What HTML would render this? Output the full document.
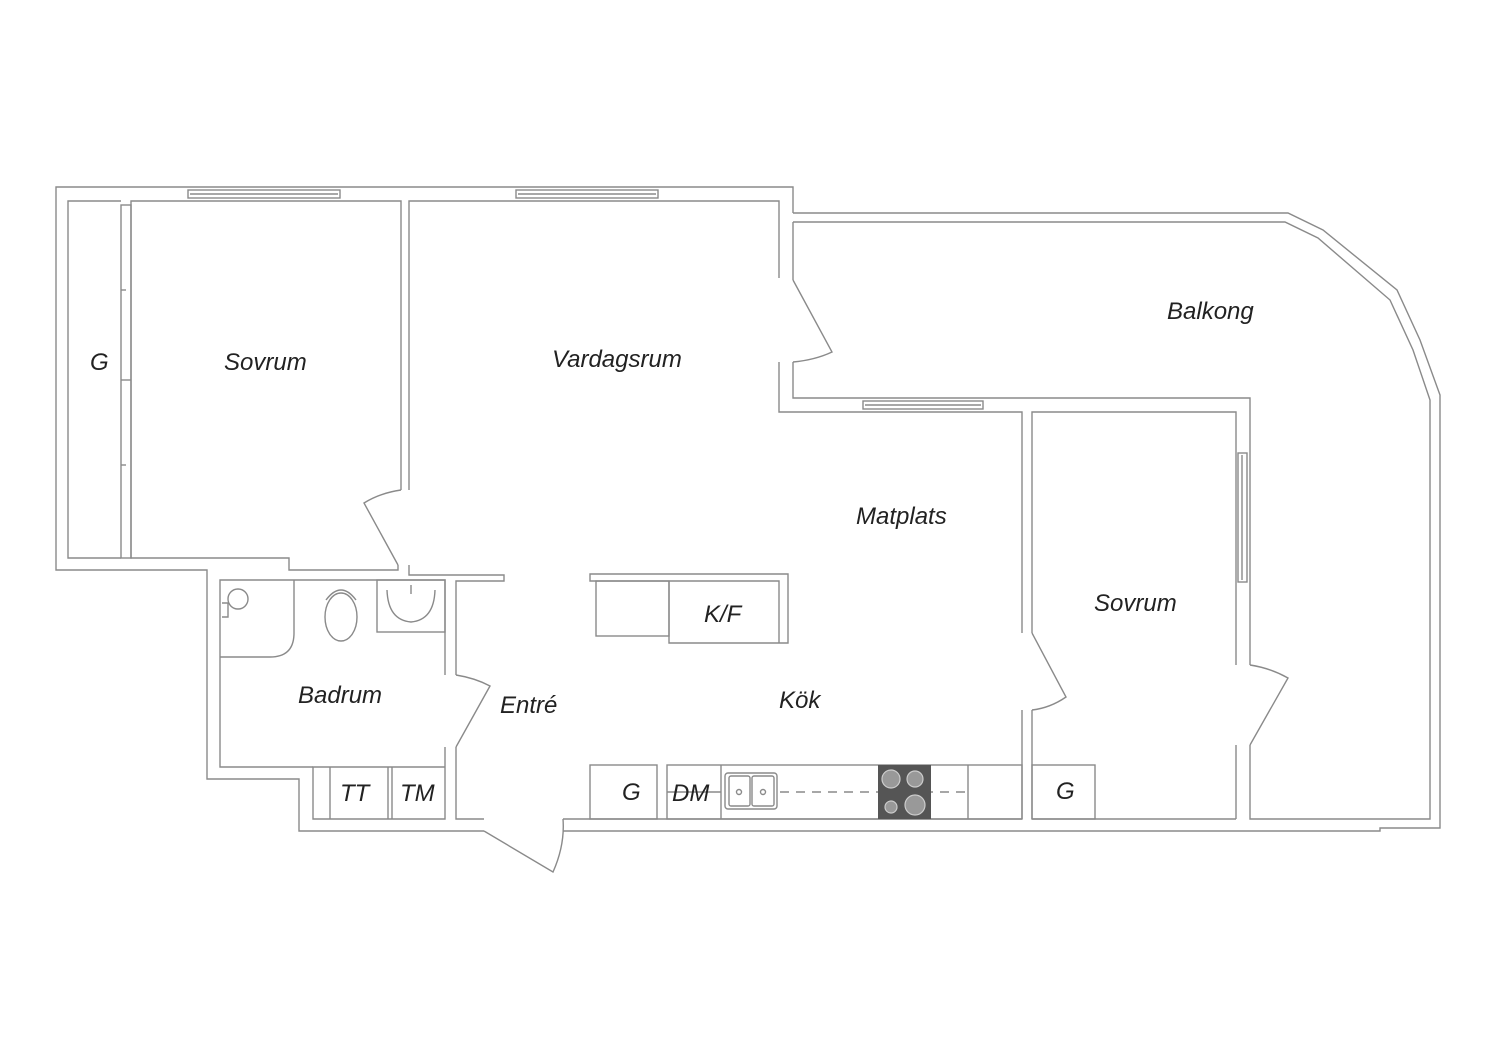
<!DOCTYPE html>
<html><head><meta charset="utf-8"><style>
html,body{margin:0;padding:0;background:#fff;}
svg{display:block}
text{font-family:"Liberation Sans",sans-serif;font-style:italic;font-size:24px;fill:#222;}
</style></head><body>
<svg width="1500" height="1060" viewBox="0 0 1500 1060" xmlns="http://www.w3.org/2000/svg">
<g fill="none" stroke="#8a8a8a" stroke-width="1.4">
<polyline points="793,213 793,187 56,187 56,570 207,570 207,779 299,779 299,831 484,831"/>
<polyline points="563,831 1380,831 1380,828 1440,828 1440,395 1420,340 1397,290 1323,230 1288,213 793,213"/>
<polyline points="793,222 1285,222 1318,238 1390,300 1413,350 1430,400 1430,819 1250,819 1250,745"/>
<polyline points="1250,665 1250,398 793,398 793,362"/>
<polyline points="793,280 793,222"/>
<polyline points="779,278 779,201 409,201 409,490"/>
<polyline points="779,362 779,412 1022,412 1022,633"/>
<polyline points="1022,710 1022,819"/>
<polyline points="1032,710 1032,819"/>
<polyline points="1032,633 1032,412 1236,412 1236,665"/>
<polyline points="1236,745 1236,819"/>
<polyline points="401,490 401,201 131,201 131,558 289,558 289,570 398,570 398,565"/>
<polyline points="409,565 409,575 504,575 504,581 456,581 456,675"/>
<polyline points="456,747 456,819 484,819"/>
<polyline points="563,819 1022,819"/>
<polyline points="1032,819 1236,819"/>
<polyline points="121,201 68,201 68,558 121,558"/>
<rect x="121" y="205" width="10" height="353"/>
<line x1="121" y1="290" x2="126" y2="290"/>
<line x1="121" y1="380" x2="131" y2="380"/>
<line x1="121" y1="465" x2="126" y2="465"/>
<polyline points="445,675 445,580 220,580 220,767 313,767"/>
<polyline points="445,747 445,819 313,819 313,767 445,767"/>
<line x1="330" y1="767" x2="330" y2="819"/>
<line x1="388" y1="767" x2="388" y2="819"/>
<line x1="392" y1="767" x2="392" y2="819"/>
<path d="M220,657 L270,657 Q294,657 294,633 L294,580"/>
<circle cx="238" cy="599" r="10"/>
<path d="M222,603 h6 v14 h-6"/>
<ellipse cx="341" cy="617" rx="16" ry="24"/>
<path d="M326,600 Q341,580 356,600"/>
<rect x="377" y="580" width="68" height="52"/>
<path d="M387,590 Q388,620 411,622 Q434,620 435,590"/>
<line x1="411" y1="585" x2="411" y2="594"/>
<path d="M793,280 L832,352 Q815,360 793,362"/>
<path d="M401,490 Q380,493 364,503 L398,565"/>
<path d="M456,675 Q475,678 490,686 L456,747"/>
<path d="M1032,633 L1066,697 Q1050,708 1032,710"/>
<path d="M1250,665 Q1270,668 1288,678 L1250,745"/>
<path d="M484,831 L553,872 Q565,845 563,819"/>
<rect x="188" y="190" width="152" height="8"/><line x1="190" y1="194" x2="338" y2="194"/>
<rect x="516" y="190" width="142" height="8"/><line x1="518" y1="194" x2="656" y2="194"/>
<rect x="863" y="401" width="120" height="8"/><line x1="865" y1="405" x2="981" y2="405"/>
<rect x="1238" y="453" width="9" height="129"/><line x1="1242" y1="455" x2="1242" y2="580"/>
<polyline points="596,581 590,581 590,574 788,574 788,643 669,643 669,581"/>
<polyline points="596,581 779,581 779,643"/>
<rect x="596" y="581" width="73" height="55"/>
<rect x="590" y="765" width="67" height="54"/>
<rect x="667" y="765" width="355" height="54"/>
<line x1="721" y1="765" x2="721" y2="819"/>
<line x1="968" y1="765" x2="968" y2="819"/>
<rect x="1032" y="765" width="63" height="54"/>
<line x1="780" y1="792" x2="968" y2="792" stroke-dasharray="9,7"/>
<line x1="667" y1="792" x2="721" y2="792"/>
<rect x="725" y="773" width="52" height="36" rx="3"/>
<rect x="729" y="776" width="21" height="30" rx="2"/>
<rect x="752" y="776" width="22" height="30" rx="2"/>
<circle cx="739" cy="792" r="2.5"/><circle cx="763" cy="792" r="2.5"/>
</g>
<rect x="878" y="765" width="53" height="54" fill="#555"/>
<g fill="#999" stroke="#ccc" stroke-width="1.2">
<circle cx="891" cy="779" r="9"/><circle cx="915" cy="779" r="8"/>
<circle cx="891" cy="807" r="6"/><circle cx="915" cy="805" r="10"/>
</g>
<g>
<text x="90" y="370">G</text>
<text x="224" y="370">Sovrum</text>
<text x="552" y="367">Vardagsrum</text>
<text x="1167" y="319">Balkong</text>
<text x="856" y="524">Matplats</text>
<text x="1094" y="611">Sovrum</text>
<text x="704" y="622">K/F</text>
<text x="298" y="703">Badrum</text>
<text x="500" y="713">Entré</text>
<text x="779" y="708">Kök</text>
<text x="340" y="801">TT</text>
<text x="400" y="801">TM</text>
<text x="622" y="800">G</text>
<text x="672" y="801">DM</text>
<text x="1056" y="799">G</text>
</g>
</svg>
</body></html>
